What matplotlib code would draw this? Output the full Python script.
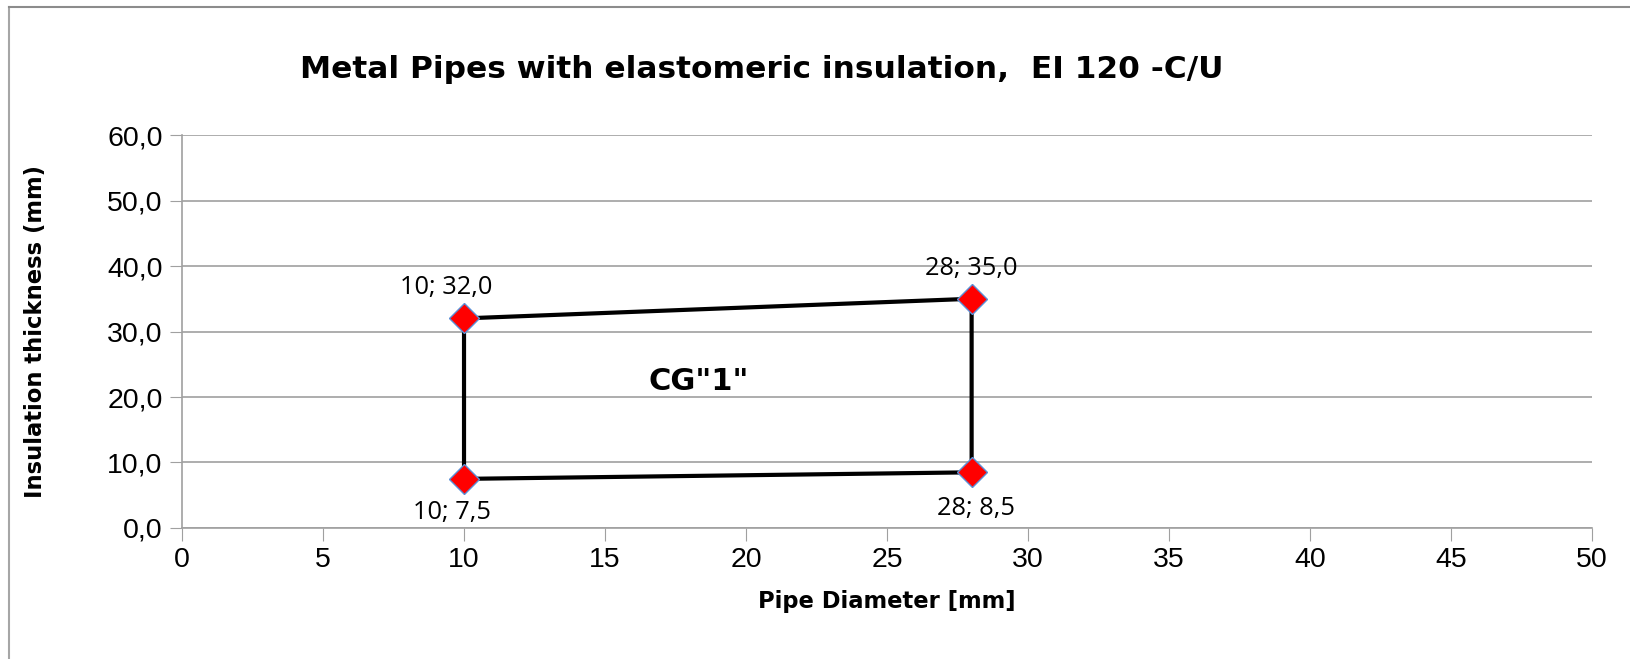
import matplotlib
matplotlib.use("Agg")
import matplotlib.pyplot as plt
from matplotlib.lines import Line2D

# outline of the CG"1" zone (closed path)
diam = [10, 28, 28, 10, 10]
thick = [32.0, 35.0, 8.5, 7.5, 32.0]

# corner points with labels
pt_x = [10, 28, 10, 28]
pt_y = [32.0, 35.0, 7.5, 8.5]
pt_lab = ["10; 32,0", "28; 35,0", "10; 7,5", "28; 8,5"]
pt_off = [(-13, 22), (0, 22), (-9, -24), (3.5, -26)]

xticks = [0, 5, 10, 15, 20, 25, 30, 35, 40, 45, 50]
yticks = [0, 10, 20, 30, 40, 50, 60]

fig = plt.figure(figsize=(16.31, 6.59), dpi=100)
ax = fig.add_axes([0.1116, 0.1988, 0.8645, 0.5963])

# outer chart frame (left and top edges only are visible)
fx, fy = 9.5 / 1631, 1 - 6.5 / 659
fig.add_artist(Line2D([fx, fx], [0, fy], transform=fig.transFigure,
                      color="#a6a6a6", linewidth=1.5))
fig.add_artist(Line2D([fx, 1], [fy, fy], transform=fig.transFigure,
                      color="#8c8c8c", linewidth=1.5))

ax.plot(diam, thick, color="black", linewidth=3, zorder=3)
ax.plot(pt_x, pt_y, linestyle="none", marker="D", markersize=15,
        markerfacecolor="#ff0000", markeredgecolor="#5b8fd6",
        markeredgewidth=1, zorder=4)

for x, y, s, off in zip(pt_x, pt_y, pt_lab, pt_off):
    ax.annotate(s, (x, y), xytext=off, textcoords="offset points",
                ha="center", va="center", fontsize=18.3, family="Open Sans")

ax.text(18.33, 22.3, 'CG"1"', ha="center", va="center", fontsize=22,
        fontweight="bold", family="DejaVu Sans")

ax.set_xlim(0, 50)
ax.set_ylim(0, 60)
ax.set_xticks(xticks)
ax.set_yticks(yticks)
ax.set_yticklabels([f"{v:.1f}".replace(".", ",") for v in yticks])
ax.tick_params(labelsize=20.5, length=9, color="#a0a0a0", pad=5)
for lab in ax.get_xticklabels() + ax.get_yticklabels():
    lab.set_family("Liberation Sans")

ax.grid(axis="y", color="#a0a0a0", linewidth=1.2)
ax.set_axisbelow(True)
for side in ["top", "right"]:
    ax.spines[side].set_visible(False)
for side in ["left", "bottom"]:
    ax.spines[side].set_color("#a0a0a0")
    ax.spines[side].set_linewidth(1.2)

ax.set_xlabel("Pipe Diameter [mm]", fontsize=16.3, fontweight="bold", labelpad=12)
ax.set_ylabel("Insulation thickness (mm)", fontsize=16.3, fontweight="bold", labelpad=43)

fig.text(762 / 1631, 1 - 70 / 659,
         "Metal Pipes with elastomeric insulation,  EI 120 -C/U",
         ha="center", va="center", fontsize=22.5, fontweight="bold")

fig.savefig("out.png", dpi=100)
